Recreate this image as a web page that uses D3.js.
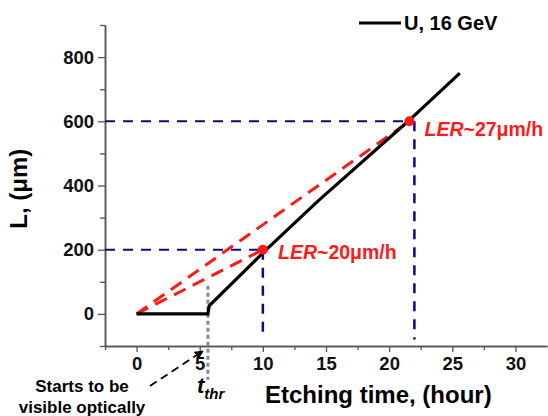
<!DOCTYPE html>
<html>
<head>
<meta charset="utf-8">
<script src="https://cdn.jsdelivr.net/npm/d3@7"></script>
<style>
  body { margin: 0; background: #fff; }
  text { font-family: "Liberation Sans", Arial, sans-serif; }
</style>
</head>
<body>
<script>
// measured curve, U 16 GeV
var timeH = [0, 5.65, 5.75, 10, 14.4, 21.5, 25.6];
var lengthUm = [0, 0, 25, 190, 353, 600, 750];
// rate points (red dots) and guide lines
var rateT = [10, 21.6];
var rateL = [200, 600];
var rateLabels = ["20", "27"];
var guideT = [10, 22];
var guideBottom = [-58, -80];
var tThr = 5.65;
var xTicks = [0, 5, 10, 15, 20, 25, 30];
var yTicks = [0, 200, 400, 600, 800];

var margin = {top: 25, right: 1, bottom: 70, left: 105},
  width = 548 - margin.left - margin.right,
  height = 416 - margin.top - margin.bottom;

var svg = d3.select("body").append("svg")
  .attr("width", 548).attr("height", 416)
  .append("g")
  .attr("transform", "translate(" + margin.left + "," + margin.top + ")");

var x = d3.scaleLinear().domain([-2.5, 32.5]).range([0, width]);
var y = d3.scaleLinear().domain([-100, 900]).range([height, 0]);

// axes, major + minor ticks
svg.append("g")
  .attr("transform", "translate(0," + height + ")")
  .call(d3.axisBottom(x).tickValues(xTicks).tickSize(6).tickSizeOuter(0).tickPadding(5));
svg.append("g").attr("transform", "translate(0," + height + ")")
  .call(d3.axisBottom(x).tickValues([-2.5, 2.5, 7.5, 12.5, 17.5, 22.5, 27.5]).tickSize(4).tickFormat("").tickSizeOuter(0));

svg.append("g")
  .call(d3.axisLeft(y).tickValues(yTicks).tickSize(7).tickSizeOuter(0).tickPadding(4));
svg.append("g")
  .call(d3.axisLeft(y).tickValues([-100, 100, 300, 500, 700, 900]).tickSize(5).tickFormat("").tickSizeOuter(0));

svg.selectAll(".domain").attr("stroke", "#555").attr("stroke-width", 1.5);
svg.selectAll(".tick line").attr("stroke", "#555").attr("stroke-width", 1.3);
svg.selectAll(".tick text")
  .style("font-size", "18.5px").style("font-weight", "bold").attr("fill", "#111");

// blue guide lines
for (var i = 0; i < rateT.length; i++) {
  svg.append("line")
    .attr("x1", x(-2.5)).attr("y1", y(rateL[i]))
    .attr("x2", x(guideT[i])).attr("y2", y(rateL[i]))
    .attr("stroke", "#0a0a8a").attr("stroke-width", 2).attr("stroke-dasharray", "10,8");
  svg.append("line")
    .attr("x1", x(guideT[i])).attr("y1", y(rateL[i]))
    .attr("x2", x(guideT[i])).attr("y2", y(guideBottom[i]))
    .attr("stroke", "#0a0a8a").attr("stroke-width", 2.5).attr("stroke-dasharray", "10,8");
}

// red rate lines from origin
for (var i = 0; i < rateT.length; i++) {
  svg.append("line")
    .attr("x1", x(0)).attr("y1", y(0))
    .attr("x2", x(rateT[i])).attr("y2", y(rateL[i]))
    .attr("stroke", "#ff1a1a").attr("stroke-width", 3).attr("stroke-dasharray", "13,8");
}

// threshold gray dotted line
svg.append("line")
  .attr("x1", x(tThr)).attr("y1", y(88))
  .attr("x2", x(tThr)).attr("y2", y(-205))
  .attr("stroke", "#8a8a8a").attr("stroke-width", 3).attr("stroke-dasharray", "4,3");

// main curve
var line = d3.line()
  .x(function (d, i) { return x(timeH[i]); })
  .y(function (d, i) { return y(lengthUm[i]); });
svg.append("path")
  .datum(timeH)
  .attr("d", line)
  .attr("fill", "none").attr("stroke", "#000").attr("stroke-width", 3.2);

// red dots
svg.selectAll(".dot").data(rateT).enter().append("circle")
  .attr("cx", function (d) { return x(d); })
  .attr("cy", function (d, i) { return y(rateL[i]); })
  .attr("r", 5).attr("fill", "#ff1a1a");

// LER labels
var lerPos = [[11.2, 170], [22.8, 555]];
for (var i = 0; i < rateLabels.length; i++) {
  var t = svg.append("text")
    .attr("x", x(lerPos[i][0])).attr("y", y(lerPos[i][1]))
    .attr("fill", "#ff1a1a").style("font-size", "19.5px").style("font-weight", "bold");
  t.append("tspan").style("font-style", "italic").text("LER");
  t.append("tspan").text("~" + rateLabels[i] + "\u03bcm/h");
}

// legend
svg.append("line")
  .attr("x1", 254).attr("y1", -2).attr("x2", 296).attr("y2", -2)
  .attr("stroke", "#000").attr("stroke-width", 3.2);
svg.append("text").attr("x", 299).attr("y", 5)
  .style("font-size", "20px").style("font-weight", "bold").text("U, 16 GeV");

// axis titles
svg.append("text")
  .attr("transform", "translate(-78," + (y(390)) + ") rotate(-90)")
  .attr("text-anchor", "middle")
  .style("font-size", "24px").style("font-weight", "bold").text("L, (\u03bcm)");
svg.append("text")
  .attr("x", 160).attr("y", height + 57)
  .style("font-size", "24px").style("font-weight", "bold").text("Etching time, (hour)");

// t_thr label
var tl = svg.append("text").attr("x", x(tThr) - 11).attr("y", height + 47)
  .style("font-weight", "bold").style("font-style", "italic").style("font-size", "22px");
tl.append("tspan").text("t");
tl.append("tspan").attr("dy", 6).style("font-size", "15px").text("thr");

// annotation with arrow
svg.append("defs").append("marker")
  .attr("id", "arr").attr("viewBox", "0 0 10 10").attr("refX", 9).attr("refY", 5)
  .attr("markerWidth", 5).attr("markerHeight", 5).attr("orient", "auto")
  .append("path").attr("d", "M0,0L10,5L0,10z").attr("fill", "#000");
svg.append("line")
  .attr("x1", 45).attr("y1", 361).attr("x2", 98).attr("y2", 326)
  .attr("stroke", "#000").attr("stroke-width", 1.8).attr("stroke-dasharray", "8,5")
  .attr("marker-end", "url(#arr)");
svg.append("text").attr("x", -23).attr("y", 367).attr("text-anchor", "middle")
  .style("font-size", "17px").style("font-weight", "bold").text("Starts to be");
svg.append("text").attr("x", -23).attr("y", 388).attr("text-anchor", "middle")
  .style("font-size", "17px").style("font-weight", "bold").text("visible optically");
</script>
</body>
</html>
